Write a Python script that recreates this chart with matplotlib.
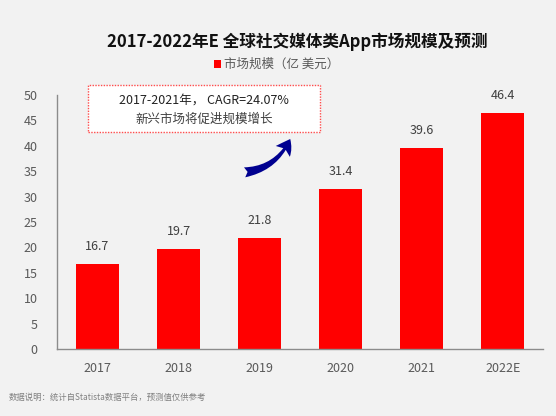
import matplotlib; matplotlib.use("Agg")
import matplotlib.pyplot as plt
from matplotlib.patches import FancyArrowPatch, Rectangle

plt.rcParams['font.family'] = ['Noto Sans CJK SC', 'DejaVu Sans']

years = ["2017", "2018", "2019", "2020", "2021", "2022E"]
market = [16.7, 19.7, 21.8, 31.4, 39.6, 46.4]
yticks = [0, 5, 10, 15, 20, 25, 30, 35, 40, 45, 50]

BG = "#f2f2f2"
fig = plt.figure(figsize=(5.56, 4.16), dpi=100, facecolor=BG)
ax = fig.add_axes([0.1025, 0.161, 0.8745, 0.611], facecolor=BG)

x = range(len(years))
ax.bar(x, market, width=0.53, color="#ff0000", zorder=2)
for i, v in zip(x, market):
    ax.text(i, v + 2.2, f"{v}", ha="center", va="bottom", fontsize=9, color="#404040")

ax.set_xlim(-0.5, len(years) - 0.5)
ax.set_ylim(0, 50)
ax.set_yticks(yticks)
ax.set_xticks(list(x))
ax.set_xticklabels(years)
ax.tick_params(axis="both", length=0, labelsize=9, colors="#595959")
ax.tick_params(axis="x", pad=9)
ax.tick_params(axis="y", pad=14)
for s in ["top", "right"]:
    ax.spines[s].set_visible(False)
for s in ["left", "bottom"]:
    ax.spines[s].set_color("#8c8c8c")
    ax.spines[s].set_linewidth(1.0)

fig.text(0.535, 0.899, "2017-2022年E 全球社交媒体类App市场规模及预测",
         ha="center", va="center", fontsize=12, fontweight="bold", color="#111111")
fig.patches.append(Rectangle((0.384, 0.836), 0.014, 0.019, transform=fig.transFigure,
                             facecolor="#ff0000", edgecolor="none"))
fig.text(0.403, 0.846, "市场规模（亿 美元）", ha="left", va="center",
         fontsize=9, color="#595959")

# annotation box
fig.patches.append(Rectangle((0.159, 0.682), 0.417, 0.114, transform=fig.transFigure,
                             facecolor="white", edgecolor="#ff4d4d", linestyle=(0, (1, 1)),
                             linewidth=1.0, zorder=3))
fig.text(0.367, 0.759, "2017-2021年， CAGR=24.07%", ha="center", va="center",
         fontsize=9, color="#222222", zorder=4)
fig.text(0.367, 0.713, "新兴市场将促进规模增长", ha="center", va="center",
         fontsize=9, color="#404040", zorder=4)

arrow = FancyArrowPatch((0.435, 0.585), (0.524, 0.672), transform=fig.transFigure,
                        connectionstyle="arc3,rad=0.3",
                        arrowstyle="fancy,head_width=1.6,head_length=1.3,tail_width=0.9",
                        mutation_scale=8,
                        facecolor="#000090", edgecolor="none", zorder=4)
fig.patches.append(arrow)

fig.text(0.015, 0.046, "数据说明：统计自Statista数据平台，预测值仅供参考", ha="left", va="center",
         fontsize=6, color="#808080")

fig.savefig("out.png", dpi=100, facecolor=BG)
